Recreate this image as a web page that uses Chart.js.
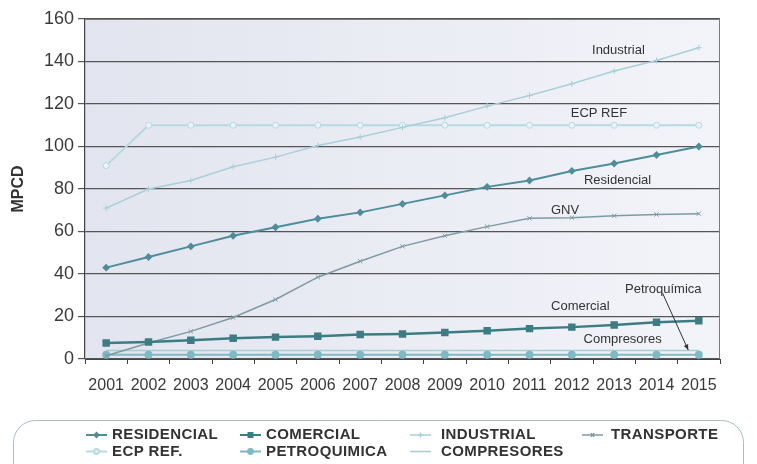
<!DOCTYPE html>
<html>
<head>
<meta charset="utf-8">
<script src="https://cdn.jsdelivr.net/npm/chart.js@4"></script>
<style>
  html, body { margin: 0; background: #fff; }
  canvas { display: block; }
</style>
</head>
<body>
<canvas id="grafico" width="757" height="464"></canvas>
<script>
// demanda proyectada de gas natural, MPCD
let anios = ['2001','2002','2003','2004','2005','2006','2007','2008','2009','2010','2011','2012','2013','2014','2015'];

let residencial  = [43, 48, 53, 58, 62, 66, 69, 73, 77, 81, 84, 88.5, 92, 96, 100];
let comercial    = [7.5, 8, 8.8, 9.8, 10.3, 10.7, 11.5, 11.8, 12.5, 13.3, 14.3, 15, 16, 17.3, 18];
let industrial   = [71, 80, 84, 90.5, 95, 100.5, 104.5, 109, 113.5, 119, 124, 129.5, 135.5, 140.5, 146.5];
let transporte   = [1.5, 7.5, 13, 19.5, 28, 38.5, 46, 53, 58, 62.3, 66.2, 66.5, 67.4, 68, 68.4];
let ecpRef       = [91, 110, 110, 110, 110, 110, 110, 110, 110, 110, 110, 110, 110, 110, 110];
let petroquimica = [2, 2, 2, 2, 2, 2, 2, 2, 2, 2, 2, 2, 2, 2, 2];
let compresores  = [4, 4, 4, 4, 4, 4, 4, 4, 4, 4, 4, 4, 4, 4, 4];

let ticksY = [0, 20, 40, 60, 80, 100, 120, 140, 160];

// rotulos dentro del grafico (x = indice de año, y = MPCD)
let rotulos = [
  { texto: 'Industrial',   x: 12.1,  y: 145.4 },
  { texto: 'ECP REF',      x: 11.64, y: 115.8 },
  { texto: 'Residencial',  x: 12.08, y: 84.2 },
  { texto: 'GNV',          x: 10.84, y: 69.8 },
  { texto: 'Petroquímica', x: 13.16, y: 32.9 },
  { texto: 'Comercial',    x: 11.2,  y: 24.6 },
  { texto: 'Compresores',  x: 12.2,  y: 9.4 }
];

Chart.defaults.font.family = '"Liberation Sans", Arial, sans-serif';
Chart.defaults.color = '#3a3a3a';

// fondo del area de trazado
const fondo = {
  id: 'fondo',
  beforeDraw(chart) {
    const { ctx, chartArea: a } = chart;
    const g = ctx.createLinearGradient(a.left, 0, a.right, 0);
    g.addColorStop(0, '#e2e4ef');
    g.addColorStop(1, '#f3f4f9');
    ctx.save();
    ctx.fillStyle = g;
    ctx.fillRect(a.left, a.top, a.right - a.left, a.bottom - a.top);
    ctx.restore();
  },
  afterDraw(chart) {
    const { ctx, chartArea: a } = chart;
    ctx.save();
    ctx.strokeStyle = '#7a7a7a';
    ctx.lineWidth = 1;
    ctx.beginPath();
    ctx.moveTo(a.left, a.top + 0.5);
    ctx.lineTo(a.right - 0.5, a.top + 0.5);
    ctx.lineTo(a.right - 0.5, a.bottom);
    ctx.stroke();
    ctx.restore();
  }
};

// textos sobre las series y flecha de petroquimica
const notas = {
  id: 'notas',
  afterDatasetsDraw(chart) {
    const { ctx, scales: { x, y } } = chart;
    ctx.save();
    ctx.font = '13px "Liberation Sans", Arial, sans-serif';
    ctx.fillStyle = '#333';
    ctx.textAlign = 'center';
    ctx.textBaseline = 'middle';
    rotulos.forEach(r => ctx.fillText(r.texto, x.getPixelForValue(r.x), y.getPixelForValue(r.y)));

    const x1 = x.getPixelForValue(13.14), y1 = y.getPixelForValue(31.1);
    const x2 = x.getPixelForValue(13.75), y2 = y.getPixelForValue(4.2);
    ctx.strokeStyle = '#333';
    ctx.lineWidth = 1;
    ctx.beginPath();
    ctx.moveTo(x1, y1);
    ctx.lineTo(x2, y2);
    ctx.stroke();
    const ang = Math.atan2(y2 - y1, x2 - x1);
    ctx.beginPath();
    ctx.moveTo(x2, y2);
    ctx.lineTo(x2 - 6 * Math.cos(ang - 0.4), y2 - 6 * Math.sin(ang - 0.4));
    ctx.lineTo(x2 - 6 * Math.cos(ang + 0.4), y2 - 6 * Math.sin(ang + 0.4));
    ctx.closePath();
    ctx.fillStyle = '#333';
    ctx.fill();
    ctx.restore();
  }
};

// leyenda en 4 columnas dentro de un recuadro redondeado
const leyenda = {
  id: 'leyenda',
  afterDraw(chart) {
    const ctx = chart.ctx;
    const colMarca = [86, 240, 410, 582];
    const colTexto = [112, 266, 441, 611];
    const filas = [435, 451.5];
    ctx.save();
    ctx.strokeStyle = '#a9bcc6';
    ctx.lineWidth = 1;
    ctx.beginPath();
    ctx.roundRect(13.5, 420.5, 730, 80, 22);
    ctx.stroke();

    ctx.font = 'bold 15px "Liberation Sans", Arial, sans-serif';
    ctx.letterSpacing = '0.4px';
    ctx.textBaseline = 'middle';
    chart.data.datasets.forEach((ds, i) => {
      const c = i % 4, f = Math.floor(i / 4);
      const yy = filas[f];
      ctx.strokeStyle = ds.borderColor;
      ctx.lineWidth = Math.min(ds.borderWidth, 2);
      ctx.beginPath();
      ctx.moveTo(colMarca[c], yy);
      ctx.lineTo(colMarca[c] + 21, yy);
      ctx.stroke();
      if (ds.pointRadius > 0) {
        ctx.fillStyle = ds.backgroundColor;
        Chart.helpers.drawPoint(ctx, {
          pointStyle: ds.pointStyle,
          radius: ds.pointRadius * 0.8,
          rotation: 0,
          borderWidth: 1
        }, colMarca[c] + 10.5, yy);
      }
      ctx.fillStyle = '#333';
      ctx.fillText(ds.label, colTexto[c], yy);
    });
    ctx.restore();
  }
};

new Chart(document.getElementById('grafico'), {
  type: 'line',
  data: {
    labels: anios,
    datasets: [
      { label: 'RESIDENCIAL', data: residencial, borderColor: '#4d8e9a', backgroundColor: '#4d8e9a',
        borderWidth: 2, pointStyle: 'rectRot', pointRadius: 2.5 },
      { label: 'COMERCIAL', data: comercial, borderColor: '#3c7c83', backgroundColor: '#3c7c83',
        borderWidth: 2.5, pointStyle: 'rect', pointRadius: 3.5 },
      { label: 'INDUSTRIAL', data: industrial, borderColor: '#a8d0d9', backgroundColor: '#a8d0d9',
        borderWidth: 1.5, pointStyle: 'cross', pointRadius: 3, pointBorderWidth: 1 },
      { label: 'TRANSPORTE', data: transporte, borderColor: '#7d9ba3', backgroundColor: '#7d9ba3',
        borderWidth: 1.5, pointStyle: 'crossRot', pointRadius: 3, pointBorderWidth: 1 },
      { label: 'ECP REF.', data: ecpRef, borderColor: '#b5dae2', backgroundColor: '#e9f4f6',
        borderWidth: 2, pointStyle: 'circle', pointRadius: 3, pointBorderWidth: 1 },
      { label: 'PETROQUIMICA', data: petroquimica, borderColor: '#7fbac4', backgroundColor: '#7fbac4',
        borderWidth: 2, pointStyle: 'circle', pointRadius: 3 },
      { label: 'COMPRESORES', data: compresores, borderColor: '#a7ccd4', backgroundColor: '#a7ccd4',
        borderWidth: 1.5, pointRadius: 0 }
    ]
  },
  options: {
    responsive: false,
    animation: false,
    layout: { padding: { top: 19, right: 37, bottom: 64, left: 5 } },
    plugins: {
      legend: { display: false },
      tooltip: { enabled: false }
    },
    elements: { line: { tension: 0 } },
    scales: {
      x: {
        offset: true,
        grid: { offset: true, drawOnChartArea: false, drawTicks: true, tickLength: 5, color: '#444' },
        border: { color: '#444', width: 1 },
        ticks: { padding: 12, font: { size: 16 }, maxRotation: 0, autoSkip: false },
        afterFit(s) { s.height = 41; }
      },
      y: {
        min: 0,
        max: 160,
        afterBuildTicks(s) { s.ticks = ticksY.map(v => ({ value: v })); },
        grid: { color: '#555', lineWidth: 1.2, tickLength: 7 },
        border: { color: '#444', width: 1.2 },
        ticks: { padding: 4, font: { size: 18 } },
        title: { display: true, text: 'MPCD', font: { size: 16, weight: 'bold' }, color: '#333' },
        afterFit(s) { s.width = 80; }
      }
    }
  },
  plugins: [fondo, notas, leyenda]
});
</script>
</body>
</html>
